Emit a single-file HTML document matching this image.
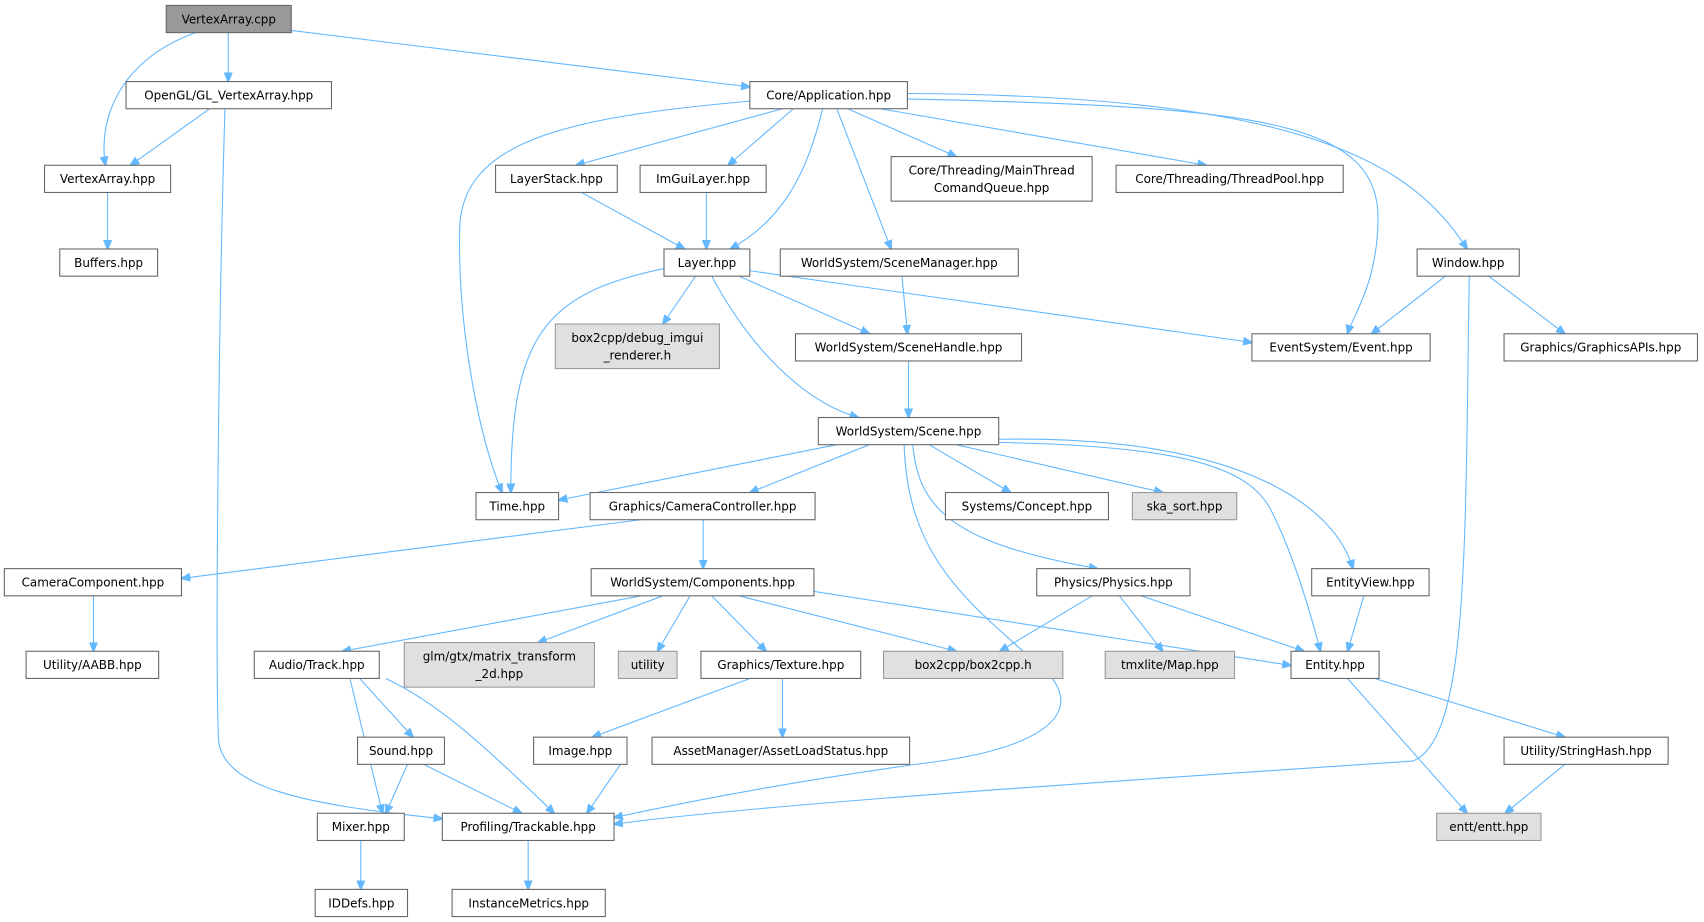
<!DOCTYPE html>
<html><head><meta charset="utf-8"><style>
html,body{margin:0;padding:0;background:#fff;}
svg{display:block;}
text{font-family:"DejaVu Sans","Liberation Sans",sans-serif;font-size:11px;fill:#000;text-anchor:middle;}
.n{fill:#fff;stroke:#666;stroke-width:1;}
.g{fill:#e0e0e0;stroke:#999;stroke-width:1;}
.r{fill:#999;stroke:#666;stroke-width:1;}
path{fill:none;stroke:#63b8ff;stroke-width:1;marker-end:url(#a);}
</style></head><body>
<svg width="1704" height="922" viewBox="0 0 1568 848" preserveAspectRatio="none" xmlns="http://www.w3.org/2000/svg">
<defs><marker id="a" viewBox="0 0 10 10" refX="9" refY="5" markerWidth="9" markerHeight="9" markerUnits="userSpaceOnUse" orient="auto"><path d="M0,1 L10,5 L0,9 z" style="fill:#63b8ff;stroke:#63b8ff;marker-end:none"/></marker></defs>
<g>
<path d="M180,30 C110,55 90,110 97,152"/>
<path d="M210,30 L210,75"/>
<path d="M268,28 L690,80"/>
<path d="M193,100 L120,152"/>
<path d="M207,100 C201,300 198,600 201,680 C205,725 280,740 407,753"/>
<path d="M99,177 L99,229"/>
<path d="M720,100 L530,152"/>
<path d="M730,100 L670,152"/>
<path d="M757,100 C745,150 725,200 672,229"/>
<path d="M780,100 L880,144"/>
<path d="M810,100 L1110,152"/>
<path d="M770,100 L820,229"/>
<path d="M835,91 C1150,98 1268,110 1268,200 C1268,260 1245,290 1240,307"/>
<path d="M835,86 C1200,88 1300,150 1350,229"/>
<path d="M690,93 C520,108 425,130 423,210 C421,300 440,400 462,453"/>
<path d="M535,177 L630,229"/>
<path d="M650,177 L650,229"/>
<path d="M830,254 L835,307"/>
<path d="M640,254 L610,298"/>
<path d="M680,254 L800,307"/>
<path d="M690,249 L1152,315"/>
<path d="M655,254 C690,320 740,370 790,384"/>
<path d="M611,247 C500,270 470,310 470,453"/>
<path d="M1330,254 L1262,307"/>
<path d="M1370,254 L1440,307"/>
<path d="M1352,254 C1348,500 1352,680 1300,700 C1000,720 700,740 565,758"/>
<path d="M836,332 L836,384"/>
<path d="M770,409 L514,460"/>
<path d="M800,409 L690,453"/>
<path d="M855,409 L930,453"/>
<path d="M880,409 L1070,453"/>
<path d="M919,407 C1090,410 1150,430 1170,470 C1190,510 1205,560 1215,599"/>
<path d="M919,404 C1150,400 1230,470 1245,523"/>
<path d="M840,409 C845,470 880,500 1010,523"/>
<path d="M832,409 C835,520 900,560 965,620 C1000,660 950,690 850,702 C720,720 620,740 565,752"/>
<path d="M590,478 L167,532"/>
<path d="M647,478 L647,523"/>
<path d="M590,548 L315,599"/>
<path d="M610,548 L495,591"/>
<path d="M635,548 L605,599"/>
<path d="M655,548 L705,599"/>
<path d="M680,548 L880,599"/>
<path d="M749,544 L1188,612"/>
<path d="M1005,548 L920,599"/>
<path d="M1030,548 L1070,599"/>
<path d="M1050,548 L1200,599"/>
<path d="M1255,548 L1240,599"/>
<path d="M86,548 L86,599"/>
<path d="M331,624 L380,678"/>
<path d="M322,624 L352,748"/>
<path d="M355,624 C400,645 440,680 510,748"/>
<path d="M690,624 L545,678"/>
<path d="M720,624 L720,678"/>
<path d="M1265,624 L1440,678"/>
<path d="M1240,624 L1350,748"/>
<path d="M1440,703 L1385,748"/>
<path d="M375,703 L355,748"/>
<path d="M390,703 L480,748"/>
<path d="M571,703 L540,748"/>
<path d="M332,773 L332,818"/>
<path d="M486,773 L486,818"/>
</g>
<g>
<rect class="r" x="153" y="5" width="115" height="25"/><text x="210.5" y="21.5">VertexArray.cpp</text>
<rect class="n" x="116" y="75" width="189" height="25"/><text x="210.5" y="91.5">OpenGL/GL_VertexArray.hpp</text>
<rect class="n" x="690" y="75" width="145" height="25"/><text x="762.5" y="91.5">Core/Application.hpp</text>
<rect class="n" x="41" y="152" width="116" height="25"/><text x="99" y="168.5">VertexArray.hpp</text>
<rect class="n" x="55" y="229" width="90" height="25"/><text x="100" y="245.5">Buffers.hpp</text>
<rect class="n" x="456" y="152" width="112" height="25"/><text x="512" y="168.5">LayerStack.hpp</text>
<rect class="n" x="589" y="152" width="116" height="25"/><text x="647" y="168.5">ImGuiLayer.hpp</text>
<rect class="n" x="820" y="144" width="185" height="41"/><text x="912.5" y="160.5">Core/Threading/MainThread</text><text x="912.5" y="176.5">ComandQueue.hpp</text>
<rect class="n" x="1027" y="152" width="209" height="25"/><text x="1131.5" y="168.5">Core/Threading/ThreadPool.hpp</text>
<rect class="n" x="611" y="229" width="79" height="25"/><text x="650.5" y="245.5">Layer.hpp</text>
<rect class="n" x="718" y="229" width="219" height="25"/><text x="827.5" y="245.5">WorldSystem/SceneManager.hpp</text>
<rect class="n" x="1304" y="229" width="94" height="25"/><text x="1351" y="245.5">Window.hpp</text>
<rect class="g" x="511" y="298" width="151" height="41"/><text x="586.5" y="314.5">box2cpp/debug_imgui</text><text x="586.5" y="330.5">_renderer.h</text>
<rect class="n" x="732" y="307" width="208" height="25"/><text x="836" y="323.5">WorldSystem/SceneHandle.hpp</text>
<rect class="n" x="1152" y="307" width="164" height="25"/><text x="1234" y="323.5">EventSystem/Event.hpp</text>
<rect class="n" x="1384" y="307" width="178" height="25"/><text x="1473" y="323.5">Graphics/GraphicsAPIs.hpp</text>
<rect class="n" x="753" y="384" width="166" height="25"/><text x="836" y="400.5">WorldSystem/Scene.hpp</text>
<rect class="n" x="438" y="453" width="76" height="25"/><text x="476" y="469.5">Time.hpp</text>
<rect class="n" x="543" y="453" width="207" height="25"/><text x="646.5" y="469.5">Graphics/CameraController.hpp</text>
<rect class="n" x="870" y="453" width="150" height="25"/><text x="945" y="469.5">Systems/Concept.hpp</text>
<rect class="g" x="1042" y="453" width="96" height="25"/><text x="1090" y="469.5">ska_sort.hpp</text>
<rect class="n" x="4" y="523" width="163" height="25"/><text x="85.5" y="539.5">CameraComponent.hpp</text>
<rect class="n" x="544" y="523" width="205" height="25"/><text x="646.5" y="539.5">WorldSystem/Components.hpp</text>
<rect class="n" x="954" y="523" width="141" height="25"/><text x="1024.5" y="539.5">Physics/Physics.hpp</text>
<rect class="n" x="1207" y="523" width="108" height="25"/><text x="1261" y="539.5">EntityView.hpp</text>
<rect class="n" x="24" y="599" width="122" height="25"/><text x="85" y="615.5">Utility/AABB.hpp</text>
<rect class="n" x="234" y="599" width="115" height="25"/><text x="291.5" y="615.5">Audio/Track.hpp</text>
<rect class="g" x="372" y="591" width="175" height="41"/><text x="459.5" y="607.5">glm/gtx/matrix_transform</text><text x="459.5" y="623.5">_2d.hpp</text>
<rect class="g" x="569" y="599" width="54" height="25"/><text x="596" y="615.5">utility</text>
<rect class="n" x="645" y="599" width="147" height="25"/><text x="718.5" y="615.5">Graphics/Texture.hpp</text>
<rect class="g" x="813" y="599" width="165" height="25"/><text x="895.5" y="615.5">box2cpp/box2cpp.h</text>
<rect class="g" x="1017" y="599" width="119" height="25"/><text x="1076.5" y="615.5">tmxlite/Map.hpp</text>
<rect class="n" x="1188" y="599" width="81" height="25"/><text x="1228.5" y="615.5">Entity.hpp</text>
<rect class="n" x="329" y="678" width="80" height="25"/><text x="369" y="694.5">Sound.hpp</text>
<rect class="n" x="491" y="678" width="86" height="25"/><text x="534" y="694.5">Image.hpp</text>
<rect class="n" x="600" y="678" width="237" height="25"/><text x="718.5" y="694.5">AssetManager/AssetLoadStatus.hpp</text>
<rect class="n" x="1384" y="678" width="151" height="25"/><text x="1459.5" y="694.5">Utility/StringHash.hpp</text>
<rect class="n" x="292" y="748" width="80" height="25"/><text x="332" y="764.5">Mixer.hpp</text>
<rect class="n" x="407" y="748" width="158" height="25"/><text x="486" y="764.5">Profiling/Trackable.hpp</text>
<rect class="g" x="1322" y="748" width="96" height="25"/><text x="1370" y="764.5">entt/entt.hpp</text>
<rect class="n" x="290" y="818" width="85" height="25"/><text x="332.5" y="834.5">IDDefs.hpp</text>
<rect class="n" x="416" y="818" width="141" height="25"/><text x="486.5" y="834.5">InstanceMetrics.hpp</text>
</g>
</svg>
</body></html>
